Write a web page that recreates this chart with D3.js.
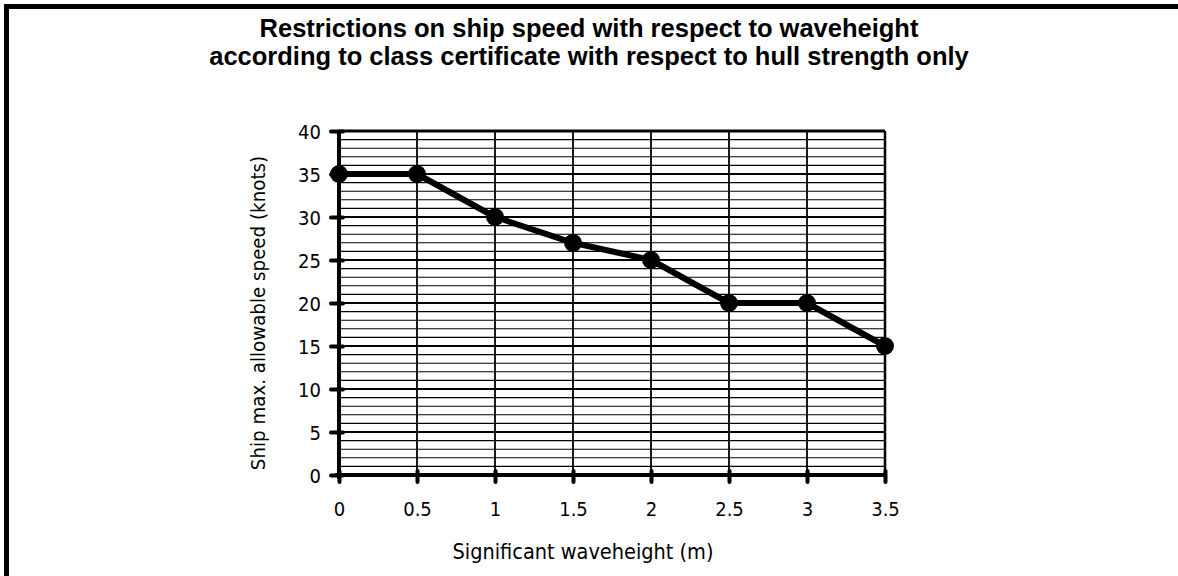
<!DOCTYPE html>
<html><head><meta charset="utf-8">
<script src="https://cdn.jsdelivr.net/npm/d3@7"></script>
<style>body{margin:0;background:#fff}svg{display:block}
.lab{font-family:'DejaVu Sans Condensed','DejaVu Sans',sans-serif;font-stretch:condensed;}</style>
</head><body>
<svg id="c" width="1178" height="576"></svg>
<script>
const titleLines = ["Restrictions on ship speed with respect to waveheight",
  "according to class certificate with respect to hull strength only"];
const waveHeight = [0, 0.5, 1, 1.5, 2, 2.5, 3, 3.5];
const maxSpeed = [35, 35, 30, 27, 25, 20, 20, 15];
const xTicks = [0, 0.5, 1, 1.5, 2, 2.5, 3, 3.5];
const yTicks = [0, 5, 10, 15, 20, 25, 30, 35, 40];
const yMinor = d3.range(0, 41, 1);
const xLabel = "Significant waveheight (m)";
const yLabel = "Ship max. allowable speed (knots)";

const svg = d3.select("#c");
const W = 1178, H = 576;
const x = d3.scaleLinear().domain([0, 3.5]).range([339, 885]);
const y = d3.scaleLinear().domain([0, 40]).range([475, 131]);

// frame
svg.append("path").attr("d", `M6.5,${H} V6.5 H${W}`).attr("fill","none")
  .attr("stroke","#000").attr("stroke-width",5);

// title
svg.append("text").attr("x",589).attr("y",37).attr("text-anchor","middle")
  .attr("font-family","'Liberation Sans',Arial,sans-serif").attr("font-weight","bold")
  .attr("font-size",25.5)
  .selectAll("tspan").data(titleLines).join("tspan")
  .attr("x",589).attr("dy",(d,i)=>i?28:0).text(d=>d);

// horizontal grid (minor every 1, major every 5)
svg.append("g").selectAll("line").data(yMinor.filter(v=>v>0)).join("line")
  .attr("x1",x(0)).attr("x2",x(3.5))
  .attr("y1",d=>y(d)).attr("y2",d=>y(d))
  .attr("stroke","#000")
  .attr("stroke-width",d=>d===40?3:(d%5===0?2:1.1));

// vertical grid
svg.append("g").selectAll("line").data(xTicks.filter(v=>v>0)).join("line")
  .attr("x1",d=>x(d)).attr("x2",d=>x(d))
  .attr("y1",y(40)).attr("y2",y(0))
  .attr("stroke","#000").attr("stroke-width",d=>d===3.5?2.5:1.8);

// axes
const yAxis = d3.axisLeft(y).tickValues(yTicks).tickSize(7).tickPadding(11).tickFormat(d3.format("d"));
const gy = svg.append("g").attr("transform",`translate(${x(0)},0)`).call(yAxis);
gy.select(".domain").attr("stroke-width",4).attr("d",`M0,${y(40)}V${y(0)+4}`);
gy.selectAll(".tick line").attr("stroke-width",4).attr("x2",-8).attr("x1",4).attr("stroke-linecap","round");
gy.selectAll(".tick text").attr("class","lab").attr("font-size",20).attr("fill","#000").attr("dy","0.35em");

const xAxis = d3.axisBottom(x).tickValues(xTicks).tickSize(7).tickPadding(20).tickFormat(d=>String(d));
const gx = svg.append("g").attr("transform",`translate(0,${y(0)})`).call(xAxis);
gx.select(".domain").attr("stroke-width",4).attr("d",`M${x(0)-4},0H${x(3.5)}`);
gx.selectAll(".tick line").attr("stroke-width",4).attr("y1",-4).attr("y2",7).attr("stroke-linecap","round");
gx.selectAll(".tick text").attr("class","lab").attr("font-size",20).attr("fill","#000");
svg.selectAll("g").attr("font-family",null);

// axis titles
svg.append("text").attr("class","lab").attr("x",583).attr("y",559).attr("text-anchor","middle")
  .attr("font-size",21.5).text(xLabel);
svg.append("text").attr("class","lab").attr("transform",`translate(265,${(y(0)+y(40))/2+10}) rotate(-90)`)
  .attr("text-anchor","middle").attr("font-size",20.3).text(yLabel);

// data line & points
const pts = waveHeight.map((w,i)=>[w, maxSpeed[i]]);
svg.append("path").datum(pts)
  .attr("d", d3.line().x(d=>x(d[0])).y(d=>y(d[1])))
  .attr("fill","none").attr("stroke","#000").attr("stroke-width",6).attr("stroke-linejoin","round");
svg.append("g").selectAll("circle").data(pts).join("circle")
  .attr("cx",d=>x(d[0])).attr("cy",d=>y(d[1])).attr("r",9).attr("fill","#000");
</script>
</body></html>
